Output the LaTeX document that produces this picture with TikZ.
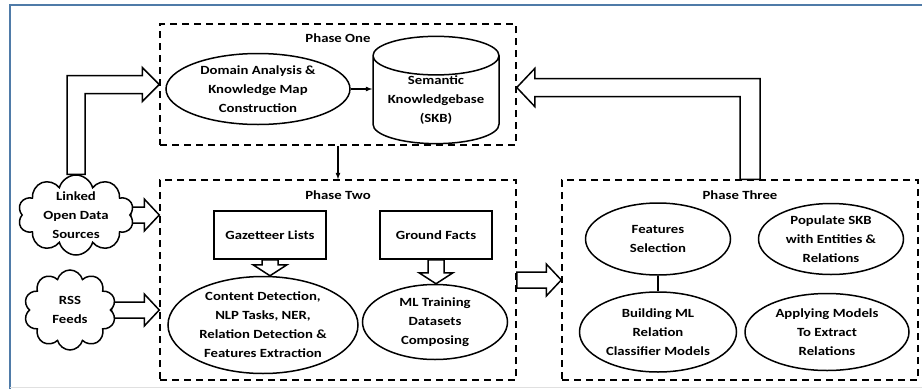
\documentclass[tikz,border=0pt]{standalone}
\usepackage{fontspec}
\setmainfont{Carlito}[FakeStretch=1.18]
\usetikzlibrary{shapes.geometric}
\usetikzlibrary{shapes.symbols}
\usetikzlibrary{calc}
\pgfdeclarelayer{bg}
\pgfsetlayers{bg,main}
\definecolor{framecol}{RGB}{79,123,168}
% hollow block arrows: left to right, and top to bottom
\newcommand{\fatright}[2]{\draw[hollow] let \p1=(#1), \p2=(#2) in (\x1,\y1+8pt) -- (\x2-15pt,\y1+8pt) -- (\x2-15pt,\y1+16pt) -- (\x2,\y1) -- (\x2-15pt,\y1-16pt) -- (\x2-15pt,\y1-8pt) -- (\x1,\y1-8pt) -- cycle;}
\newcommand{\fatdown}[2]{\draw[hollow] let \p1=(#1), \p2=(#2) in (\x1-8pt,\y1) -- (\x1-8pt,\y2+11pt) -- (\x1-17pt,\y2+11pt) -- (\x1,\y2) -- (\x1+17pt,\y2+11pt) -- (\x1+8pt,\y2+11pt) -- (\x1+8pt,\y1) -- cycle;}

\begin{document}
\begin{tikzpicture}[x=1pt, y=-1pt,
  every node/.style={font=\bfseries\fontsize{12.5}{19}\selectfont, align=center},
  phasebox/.style={draw, line width=1.5pt, dash pattern=on 7pt off 5pt, minimum width=356, inner sep=0pt},
  stage/.style={draw, ellipse, line width=1.5pt, fill=white, inner sep=-40pt},
  listbox/.style={draw, line width=1.5pt, fill=white, minimum width=112, minimum height=48},
  source/.style={draw, cloud, cloud puffs=10, cloud ignores aspect, line width=1.5pt, fill=white, inner sep=-30pt},
  hollow/.style={draw, line width=1.5pt, fill=white, line join=miter},
  link/.style={line width=1.2pt, -latex}]
\useasboundingbox (0,0) rectangle (922,389);
\draw[framecol, line width=2pt] (10,389) -- (10,5) -- (922,5); %frame
\draw[black!12, line width=1pt] (10,387.5) -- (922,387.5);
% phases
\node[phasebox, minimum height=121] (p1) at (338,84.5) {};
\node[phasebox, minimum height=200] (p2) at (338,280) {};
\node[phasebox, minimum height=200] (p3) at (740,280) {};
\node (t1) at (338,38) {Phase One};
\node (t2) at (338,195) {Phase Two};
\node (t3) at (740,195) {Phase Three};
% phase one
\node[stage, minimum width=184, minimum height=71] (dom) at (258,89) {Domain Analysis \&\\Knowledge Map\\Construction};
\node[draw, cylinder, shape border rotate=90, aspect=0.4, minimum width=126, minimum height=88, line width=1.5pt, fill=white, inner sep=0pt] (skb) at (436,100) {Semantic\\Knowledgebase\\(SKB)};
% phase two
\node[listbox] (gaz) at (270,235) {Gazetteer Lists};
\node[listbox] (gf) at (436,235) {Ground Facts};
\node[stage, minimum width=190, minimum height=97] (cd) at (263,325) {Content Detection,\\NLP Tasks, NER,\\Relation Detection \&\\Features Extraction};
\node[stage, minimum width=145, minimum height=75] (ml) at (435,322) {ML Training\\Datasets\\Composing};
% phase three
\node[stage, minimum width=145, minimum height=72] (fs) at (658,239) {Features\\Selection};
\node[stage, minimum width=145, minimum height=71] (pop) at (831,239) {Populate SKB\\with Entities \&\\Relations};
\node[stage, minimum width=157, minimum height=80] (bml) at (658,332) {Building ML\\Relation\\Classifier Models};
\node[stage, minimum width=164, minimum height=77] (apm) at (827,332) {Applying Models\\To Extract\\Relations};
% sources
\node[source, minimum width=116, minimum height=80] (lod) at (76,215) {Linked\\Open Data\\Sources};
\node[source, minimum width=92, minimum height=80] (rss) at (70,310) {RSS\\Feeds};
% links
\draw[link] (dom.east) -- (dom.east -| skb.west);
\draw[link] (p1.south) -- (p2.north);
\draw[line width=1.2pt] (fs.south) -- (bml.north);
\begin{pgfonlayer}{bg}
  \fatright{lod.east}{p2.west}
  \fatright{rss.east}{p2.west}
  \fatright{p2.east}{p3.west}
  \fatdown{gaz.south}{cd.north}
  \fatdown{gf.south}{ml.north}
  \draw[hollow] let \p1=(lod.north), \p2=(p1.west) in (\x1-9pt,\y1) -- (\x1-9pt,\y2+9pt) -- (\x2-17pt,\y2+9pt) -- (\x2-17pt,\y2+17pt) -- (\x2,\y2) -- (\x2-17pt,\y2-17pt) -- (\x2-17pt,\y2-9pt) -- (\x1+9pt,\y2-9pt) -- (\x1+9pt,\y1) -- cycle; %to phase one
  \draw[hollow] let \p1=($(p3.north)+(10,0)$), \p2=($(p1.east)+(0,3)$) in (\x1+10pt,\y1) -- (\x1+10pt,\y2+9pt) -- (\x2+18pt,\y2+9pt) -- (\x2+18pt,\y2+19pt) -- (\x2,\y2) -- (\x2+18pt,\y2-19pt) -- (\x2+18pt,\y2-9pt) -- (\x1-10pt,\y2-9pt) -- (\x1-10pt,\y1) -- cycle; %back to SKB
\end{pgfonlayer}
\end{tikzpicture}
\end{document}
